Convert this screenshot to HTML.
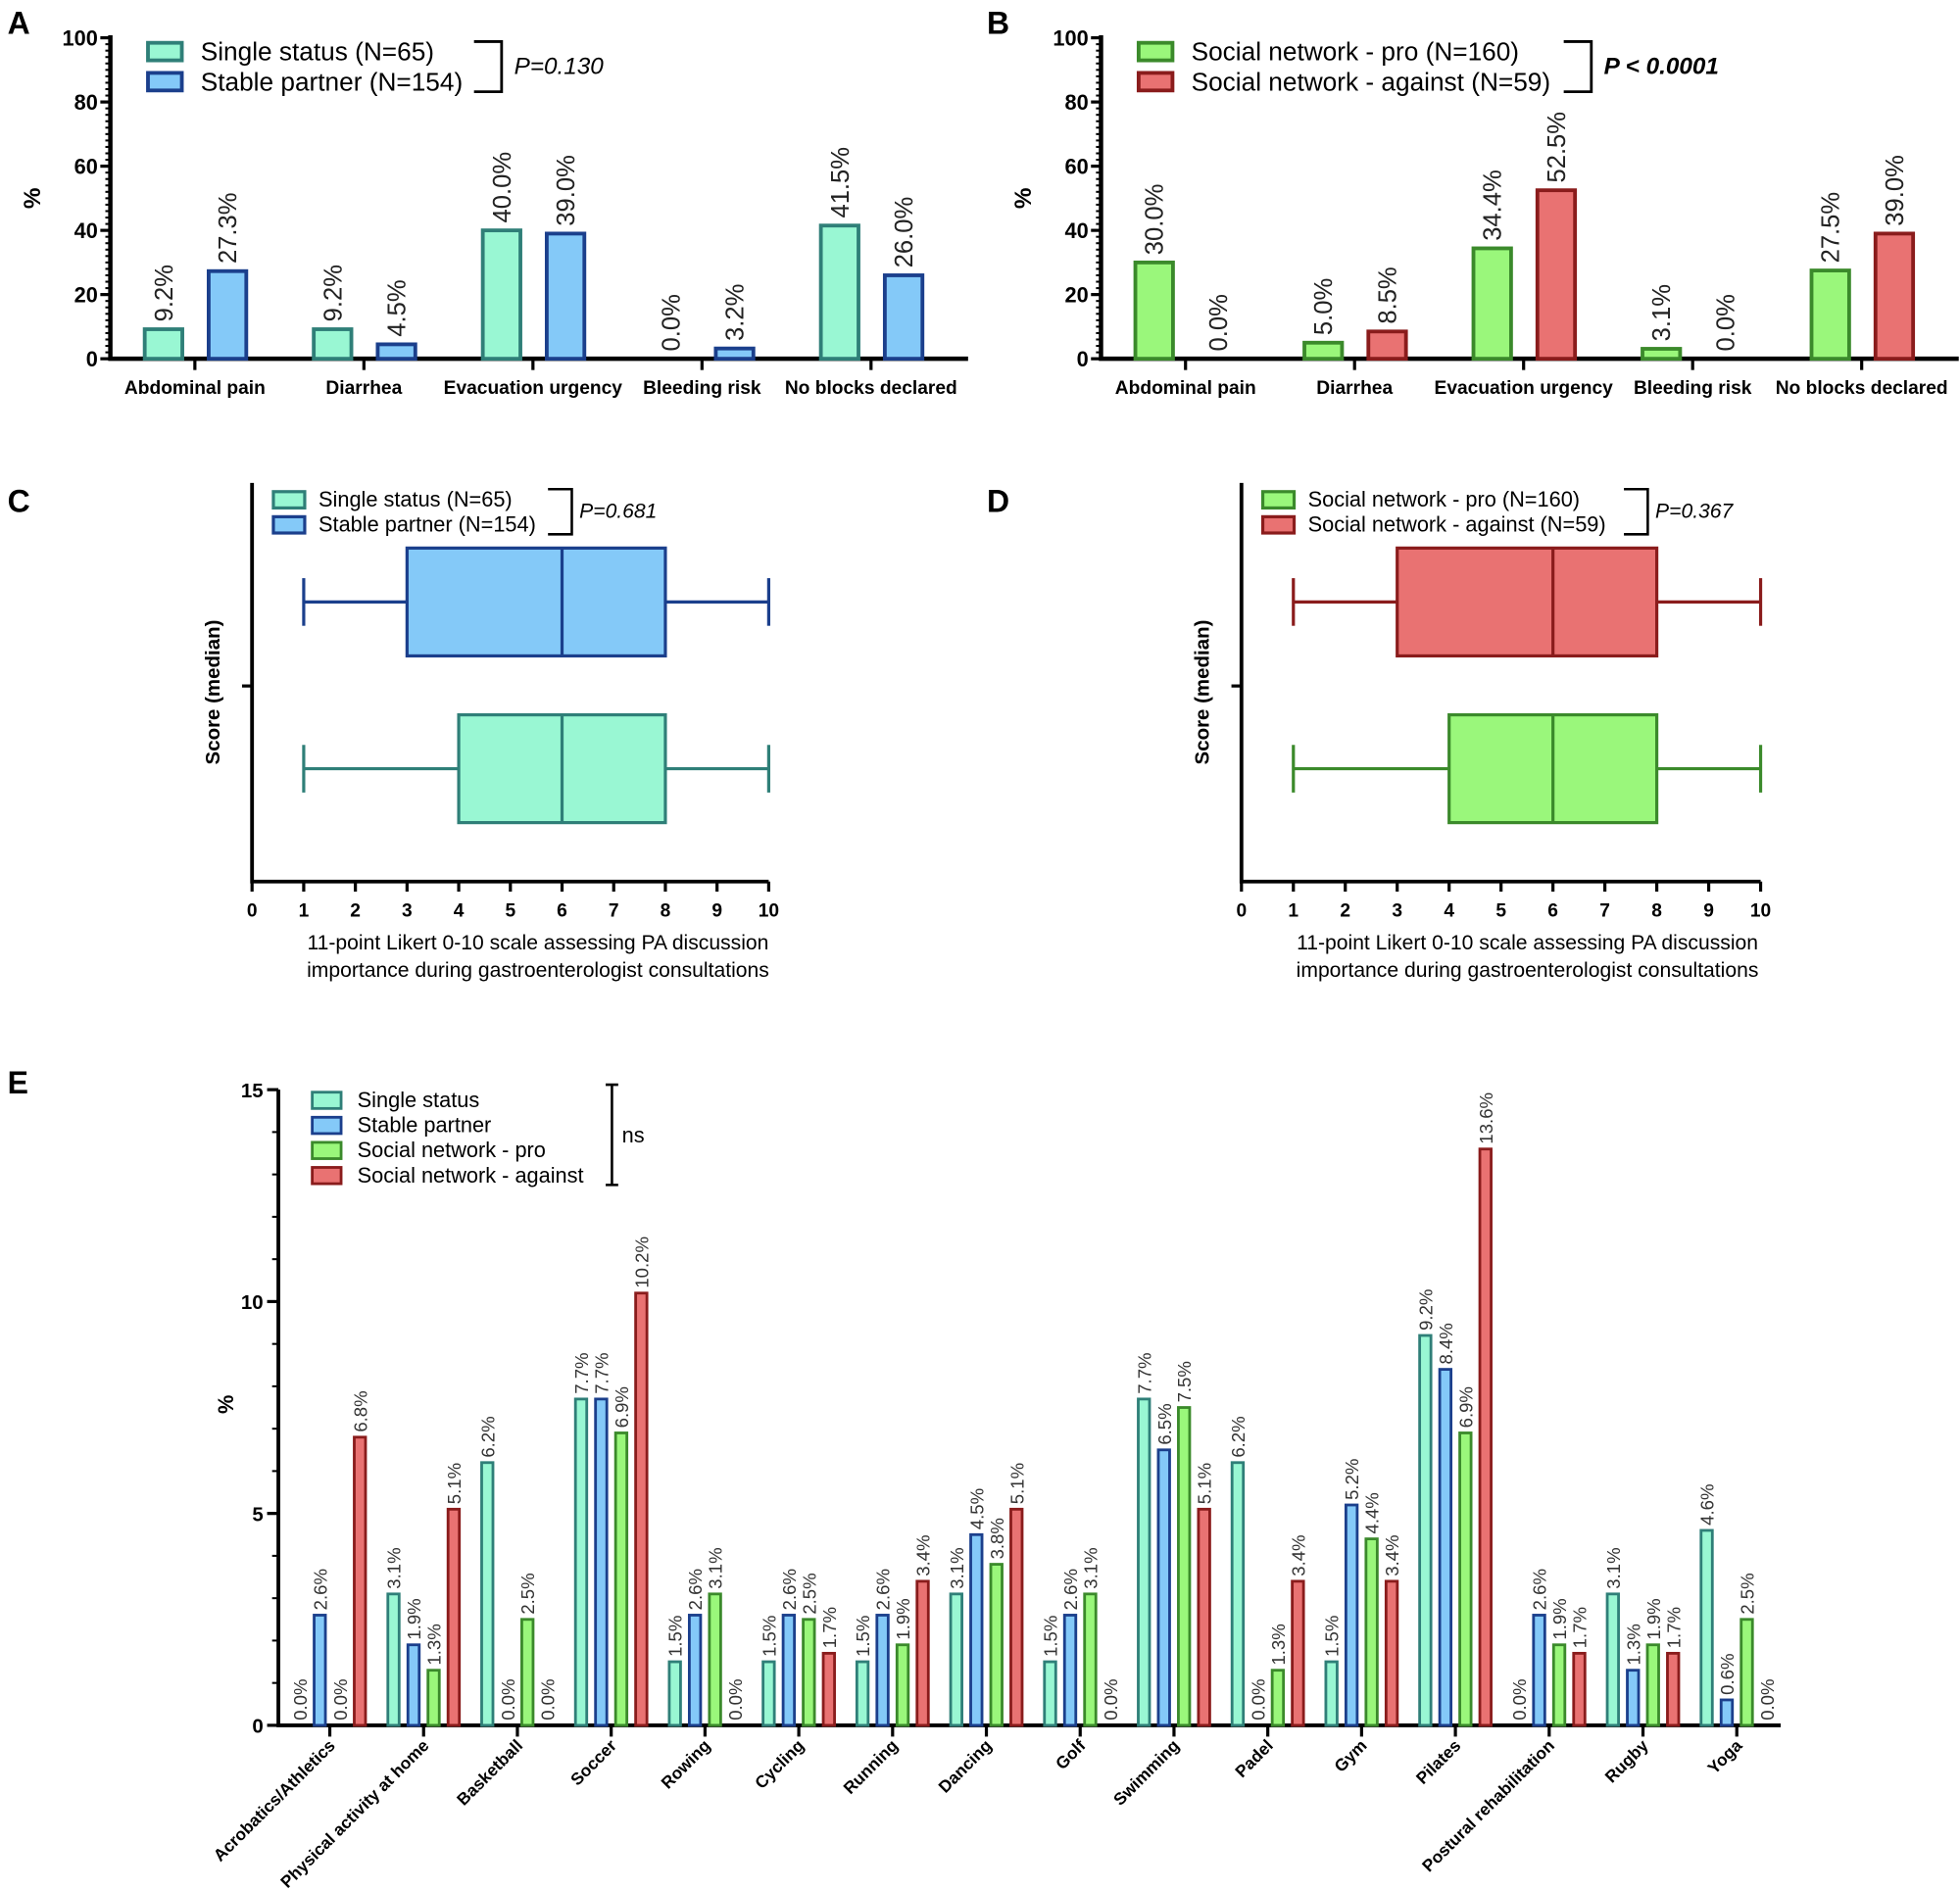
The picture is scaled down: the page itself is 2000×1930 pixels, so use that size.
<!DOCTYPE html>
<html><head><meta charset="utf-8">
<style>
html,body{margin:0;padding:0;background:#fff;}
svg{display:block;}
text{font-family:"Liberation Sans",Arial,sans-serif;}
</style></head>
<body>
<svg id="fig" width="2000" height="1930" viewBox="0 0 1563 1508" xmlns="http://www.w3.org/2000/svg">
<text x="6" y="27" font-size="25" font-weight="bold">A</text>
<text x="787" y="27" font-size="25" font-weight="bold">B</text>
<text x="6" y="408" font-size="25" font-weight="bold">C</text>
<text x="787" y="408" font-size="25" font-weight="bold">D</text>
<text x="6" y="872" font-size="25" font-weight="bold">E</text>
</svg>
<script>
const NS="http://www.w3.org/2000/svg";
const svg=document.getElementById('fig');
function el(tag,attrs,parent,txt){const e=document.createElementNS(NS,tag);for(const k in attrs)e.setAttribute(k,attrs[k]);if(txt!==undefined)e.textContent=txt;(parent||svg).appendChild(e);return e;}

const COL={
 single:{fill:'#99f7d3',stroke:'#2f7f78'},
 partner:{fill:'#84c9f8',stroke:'#1b3f8c'},
 pro:{fill:'#9af77b',stroke:'#3b8a2b'},
 against:{fill:'#e97272',stroke:'#8a1c1c'}
};

// ---- Panel A/B data ----
const abCategories=['Abdominal pain','Diarrhea','Evacuation urgency','Bleeding risk','No blocks declared'];
const aSingle=[9.2,9.2,40.0,0.0,41.5];
const aPartner=[27.3,4.5,39.0,3.2,26.0];
const bPro=[30.0,5.0,34.4,3.1,27.5];
const bAgainst=[0.0,8.5,52.5,0.0,39.0];
const abTicks=[0,20,40,60,80,100];

function barPanel(o){
  const g=el('g',{});  
  const x0=o.x0,x1=o.x1,yTop=30,yBot=286,vmax=100;
  const yS=v=>yBot-(v/vmax)*(yBot-yTop);
  const step=(x1-x0-10)/abCategories.length;
  const cx=i=>x0+step*(i+0.5);
  for(let v=0;v<=100;v+=2){const t=el('line',{x1:x0-4,x2:x0,y1:yS(v),y2:yS(v),stroke:'#000','stroke-width':1.6},g);}
  abTicks.forEach(v=>{
    const t=el('line',{x1:x0-8,x2:x0,y1:yS(v),y2:yS(v),stroke:'#000','stroke-width':2.5},g);
    const l=el('text',{x:x0-10,y:yS(v)+6,'font-size':17,'font-weight':'bold','text-anchor':'end'},g,String(v));
  });
  const ax=el('path',{d:`M${x0} ${yTop-2}V${yBot}H${x1}`,fill:'none',stroke:'#000','stroke-width':3.5},g);
  const yt=el('text',{x:0,y:0,'font-size':19,'font-weight':'bold','text-anchor':'middle',transform:`translate(${x0-56},${158}) rotate(-90)`},g,'%');
  abCategories.forEach((c,i)=>{
    const tk=el('line',{x1:cx(i),x2:cx(i),y1:yBot,y2:yBot+9,stroke:'#000','stroke-width':2.5},g);
    const tl=el('text',{x:cx(i),y:yBot+28,'font-size':15,'font-weight':'bold','text-anchor':'middle'},g,c);
    [[o.s1,-25,o.c1],[o.s2,26,o.c2]].forEach(([arr,off,col])=>{
      const v=arr[i],bx=cx(i)+off-15,bw=30,by=yS(v);
      if(v>0){const r=el('rect',{x:bx,y:by,width:bw,height:yBot-by,fill:col.fill,stroke:col.stroke,'stroke-width':3},g);}
      const lx=cx(i)+off+7,ly=by-6;
      const lb=el('text',{x:0,y:0,'font-size':20,fill:'#222',transform:`translate(${lx},${ly}) rotate(-90)`},g,v.toFixed(1)+'%');
    });
  });
  [[o.c1,o.l1,41],[o.c2,o.l2,65]].forEach(([col,lab,y])=>{
    const r=el('rect',{x:x0+30,y:y-7,width:27,height:14,fill:col.fill,stroke:col.stroke,'stroke-width':3},g);
    const t=el('text',{x:x0+72,y:y+7,'font-size':20.5},g,lab);
  });
  const bk=el('path',{d:`M${o.bx} 33H${o.bx+22}V73H${o.bx}`,fill:'none',stroke:'#000','stroke-width':2.2},g);
  const p=el('text',{x:o.bx+32,y:59,'font-size':19,'font-style':'italic','font-weight':o.pb?'bold':'normal'},g,o.p);
}
barPanel({name:'panel-a-chart',x0:88,x1:772,s1:aSingle,s2:aPartner,c1:COL.single,c2:COL.partner,l1:'Single status (N=65)',l2:'Stable partner (N=154)',bx:378,p:'P=0.130'});
barPanel({name:'panel-b-chart',x0:878,x1:1562,s1:bPro,s2:bAgainst,c1:COL.pro,c2:COL.against,l1:'Social network - pro (N=160)',l2:'Social network - against (N=59)',bx:1247,p:'P < 0.0001',pb:true});

// ---- Panel C/D box data ----
const boxTicks=[0,1,2,3,4,5,6,7,8,9,10];
const cUpper=[1,3,6,8,10];
const cLower=[1,4,6,8,10];
const dUpper=[1,3,6,8,10];
const dLower=[1,4,6,8,10];

function boxPanel(o){
  const g=el('g',{});
  const x0=o.x0,xw=o.xw,yTop=385,yBot=703;
  const xS=v=>x0+v/10*xw;
  const ax=el('path',{d:`M${x0} ${yTop}V${yBot}H${xS(10)}`,fill:'none',stroke:'#000','stroke-width':3},g);
  const yk=el('line',{x1:x0-8,x2:x0,y1:547,y2:547,stroke:'#000','stroke-width':2.5},g);
  boxTicks.forEach(v=>{
    const t=el('line',{x1:xS(v),x2:xS(v),y1:yBot,y2:yBot+8,stroke:'#000','stroke-width':2.5},g);
    const l=el('text',{x:xS(v),y:yBot+28,'font-size':15,'font-weight':'bold','text-anchor':'middle'},g,String(v));
  });
  const yt=el('text',{x:0,y:0,'font-size':16,'font-weight':'bold','text-anchor':'middle',transform:`translate(${x0-26},552) rotate(-90)`},g,'Score (median)');
  const xt1=el('text',{x:x0+228,y:757,'font-size':16.5,'text-anchor':'middle'},g,'11-point Likert 0-10 scale assessing PA discussion');
  const xt2=el('text',{x:x0+228,y:779,'font-size':16.5,'text-anchor':'middle'},g,'importance during gastroenterologist consultations');
  [[o.up,480,o.cu],[o.lo,613,o.cl]].forEach(([s,cy,col])=>{
    const bg=el('g',{},g);
    const sw={stroke:col.stroke,'stroke-width':2.5};
    el('line',Object.assign({x1:xS(s[0]),x2:xS(s[1]),y1:cy,y2:cy},sw),bg);
    el('line',Object.assign({x1:xS(s[3]),x2:xS(s[4]),y1:cy,y2:cy},sw),bg);
    el('line',Object.assign({x1:xS(s[0]),x2:xS(s[0]),y1:cy-19,y2:cy+19},sw),bg);
    el('line',Object.assign({x1:xS(s[4]),x2:xS(s[4]),y1:cy-19,y2:cy+19},sw),bg);
    el('rect',Object.assign({x:xS(s[1]),y:cy-43,width:xS(s[3])-xS(s[1]),height:86,fill:col.fill},sw),bg);
    el('line',Object.assign({x1:xS(s[2]),x2:xS(s[2]),y1:cy-43,y2:cy+43},sw),bg);
  });
  [[o.cl,o.l1,398],[o.cu,o.l2,418]].forEach(([col,lab,y])=>{
    const r=el('rect',{x:x0+17,y:y-6,width:25,height:13,fill:col.fill,stroke:col.stroke,'stroke-width':2.5},g);
    const t=el('text',{x:x0+53,y:y+6,'font-size':17},g,lab);
  });
  const bk=el('path',{d:`M${o.bx} 390H${o.bx+19}V426H${o.bx}`,fill:'none',stroke:'#000','stroke-width':2},g);
  const p=el('text',{x:o.bx+25,y:413,'font-size':16.5,'font-style':'italic'},g,o.p);
}
boxPanel({name:'panel-c-chart',x0:201,xw:412,up:cUpper,lo:cLower,cu:COL.partner,cl:COL.single,l1:'Single status (N=65)',l2:'Stable partner (N=154)',bx:437,p:'P=0.681'});
boxPanel({name:'panel-d-chart',x0:990,xw:414,up:dUpper,lo:dLower,cu:COL.against,cl:COL.pro,l1:'Social network - pro (N=160)',l2:'Social network - against (N=59)',bx:1295,p:'P=0.367'});

// ---- Panel E data ----
const eCategories=['Acrobatics/Athletics','Physical activity at home','Basketball','Soccer','Rowing','Cycling','Running','Dancing','Golf','Swimming','Padel','Gym','Pilates','Postural rehabilitation','Rugby','Yoga'];
const eSingle =[0.0,3.1,6.2,7.7,1.5,1.5,1.5,3.1,1.5,7.7,6.2,1.5,9.2,0.0,3.1,4.6];
const ePartner=[2.6,1.9,0.0,7.7,2.6,2.6,2.6,4.5,2.6,6.5,0.0,5.2,8.4,2.6,1.3,0.6];
const ePro    =[0.0,1.3,2.5,6.9,3.1,2.5,1.9,3.8,3.1,7.5,1.3,4.4,6.9,1.9,1.9,2.5];
const eAgainst=[6.8,5.1,0.0,10.2,0.0,1.7,3.4,5.1,0.0,5.1,3.4,3.4,13.6,1.7,1.7,0.0];
const eTicks=[0,5,10,15];
(function(){
  const g=el('g',{});
  const x0=222,x1=1420,yTop=869,yBot=1376,vmax=15;
  const yS=v=>yBot-(v/vmax)*(yBot-yTop);
  const gs=74.8,c0=263;
  const cx=i=>c0+gs*i;
  for(let v=0;v<=15;v++){const t=el('line',{x1:x0-5,x2:x0,y1:yS(v),y2:yS(v),stroke:'#000','stroke-width':1.6},g);}
  eTicks.forEach(v=>{
    const t=el('line',{x1:x0-9,x2:x0,y1:yS(v),y2:yS(v),stroke:'#000','stroke-width':2.5},g);
    const l=el('text',{x:x0-12,y:yS(v)+6,'font-size':16,'font-weight':'bold','text-anchor':'end'},g,String(v));
  });
  const ax=el('path',{d:`M${x0} ${yTop}V${yBot}H${x1}`,fill:'none',stroke:'#000','stroke-width':3},g);
  const yt=el('text',{x:0,y:0,'font-size':17,'font-weight':'bold','text-anchor':'middle',transform:`translate(186,1120) rotate(-90)`},g,'%');
  const series=[[eSingle,COL.single],[ePartner,COL.partner],[ePro,COL.pro],[eAgainst,COL.against]];
  eCategories.forEach((c,i)=>{
    const tk=el('line',{x1:cx(i),x2:cx(i),y1:yBot,y2:yBot+9,stroke:'#000','stroke-width':2.5},g);
    const tl=el('text',{x:0,y:0,'font-size':13.5,'font-weight':'bold','text-anchor':'end',transform:`translate(${cx(i)+5},${yBot+17}) rotate(-45)`},g,c);
    series.forEach(([arr,col],k)=>{
      const v=arr[i],bc=cx(i)-24+16*k,by=yS(v);
      if(v>0){const r=el('rect',{x:bc-4.5,y:by,width:9,height:yBot-by,fill:col.fill,stroke:col.stroke,'stroke-width':2.2},g);}
      const lb=el('text',{x:0,y:0,'font-size':14.5,fill:'#333',transform:`translate(${bc+5.5},${by-4}) rotate(-90)`},g,v.toFixed(1)+'%');
    });
  });
  const labs=['Single status','Stable partner','Social network - pro','Social network - against'];
  series.forEach(([arr,col],k)=>{
    const y=877+20*k;
    const r=el('rect',{x:249,y:y-6,width:23,height:13,fill:col.fill,stroke:col.stroke,'stroke-width':2.2},g);
    const t=el('text',{x:285,y:y+6,'font-size':17},g,labs[k]);
  });
  const bk=el('path',{d:'M483 865H493M488 865V945M483 945H493',fill:'none',stroke:'#000','stroke-width':2},g);
  const ns=el('text',{x:496,y:911,'font-size':17},g,'ns');
})();
</script>
</body></html>
